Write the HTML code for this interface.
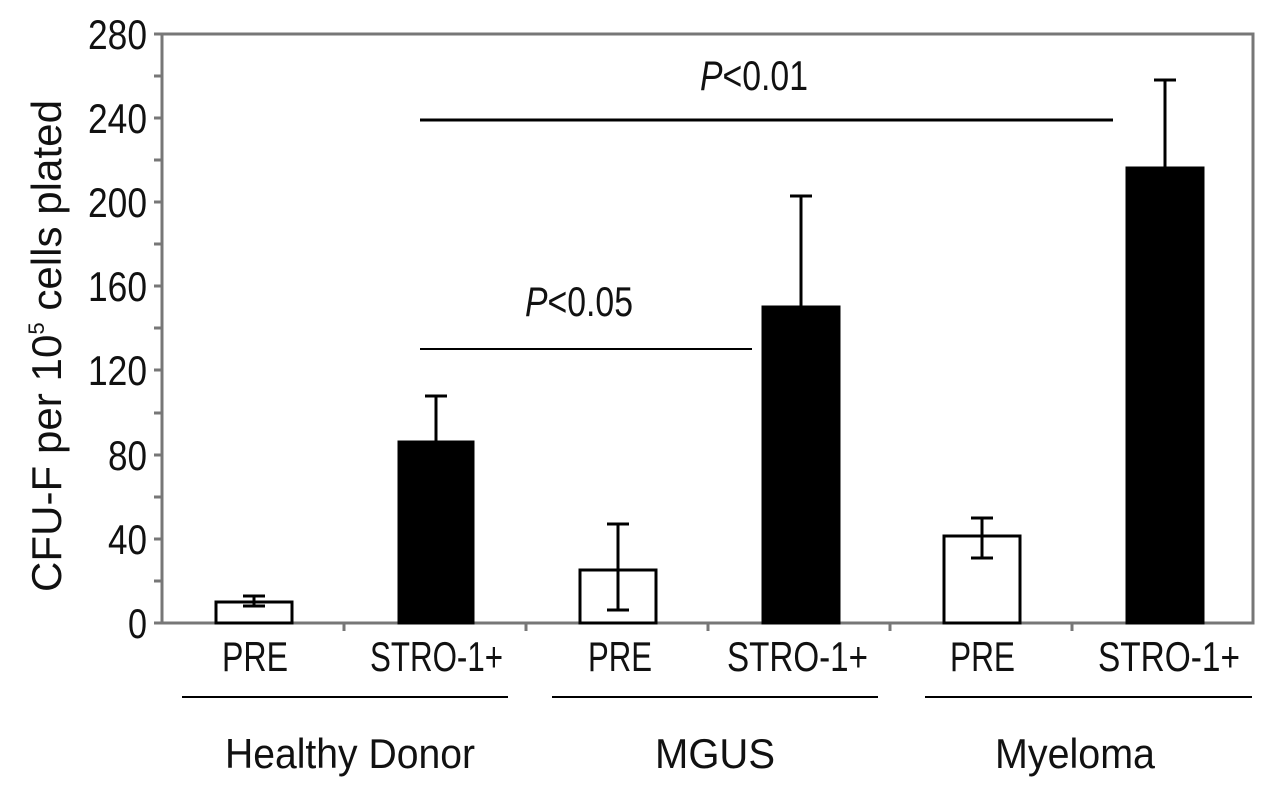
<!DOCTYPE html>
<html><head><style>
html,body{margin:0;padding:0;background:#fff;}
svg text{font-family:"Liberation Sans",sans-serif;fill:#111;}
</style></head><body>
<svg width="1280" height="788" viewBox="0 0 1280 788" xmlns="http://www.w3.org/2000/svg">
<rect x="0" y="0" width="1280" height="788" fill="#fff"/>
<rect x="162" y="34" width="1091" height="589" fill="none" stroke="#777" stroke-width="3"/>
<g stroke="#777" stroke-width="3">
<line x1="154" y1="623" x2="162" y2="623"/><line x1="154" y1="581" x2="162" y2="581"/>
<line x1="154" y1="539" x2="162" y2="539"/><line x1="154" y1="497" x2="162" y2="497"/>
<line x1="154" y1="455" x2="162" y2="455"/><line x1="154" y1="413" x2="162" y2="413"/>
<line x1="154" y1="370" x2="162" y2="370"/><line x1="154" y1="328" x2="162" y2="328"/>
<line x1="154" y1="286" x2="162" y2="286"/><line x1="154" y1="244" x2="162" y2="244"/>
<line x1="154" y1="202" x2="162" y2="202"/><line x1="154" y1="160" x2="162" y2="160"/>
<line x1="154" y1="118" x2="162" y2="118"/><line x1="154" y1="76" x2="162" y2="76"/>
<line x1="154" y1="34" x2="162" y2="34"/>
<line x1="344" y1="623" x2="344" y2="631"/><line x1="526" y1="623" x2="526" y2="631"/>
<line x1="708" y1="623" x2="708" y2="631"/><line x1="890" y1="623" x2="890" y2="631"/>
<line x1="1072" y1="623" x2="1072" y2="631"/>
</g>
<g font-size="42" lengthAdjust="spacingAndGlyphs">
<text x="128" y="638" textLength="19" lengthAdjust="spacingAndGlyphs">0</text>
<text x="108" y="554" textLength="39" lengthAdjust="spacingAndGlyphs">40</text>
<text x="108" y="470" textLength="39" lengthAdjust="spacingAndGlyphs">80</text>
<text x="88" y="385" textLength="59" lengthAdjust="spacingAndGlyphs">120</text>
<text x="88" y="301" textLength="59" lengthAdjust="spacingAndGlyphs">160</text>
<text x="88" y="217" textLength="59" lengthAdjust="spacingAndGlyphs">200</text>
<text x="88" y="133" textLength="59" lengthAdjust="spacingAndGlyphs">240</text>
<text x="88" y="49" textLength="59" lengthAdjust="spacingAndGlyphs">280</text>
</g>
<text font-size="42" transform="translate(61,592) rotate(-90)" textLength="492" lengthAdjust="spacingAndGlyphs">CFU-F per 10<tspan font-size="22" dy="-17">5</tspan><tspan dy="17"> cells plated</tspan></text>
<g stroke="#000" stroke-width="3">
<rect x="216" y="602" width="76" height="21" fill="#fff"/>
<rect x="399" y="442" width="74" height="181" fill="#000"/>
<rect x="580" y="570" width="76" height="53" fill="#fff"/>
<rect x="763" y="307" width="76" height="316" fill="#000"/>
<rect x="944" y="536" width="76" height="87" fill="#fff"/>
<rect x="1127" y="168" width="76" height="455" fill="#000"/>
</g>
<g stroke="#000" stroke-width="3">
<line x1="254" y1="596" x2="254" y2="606"/><line x1="243" y1="596" x2="265" y2="596"/><line x1="243" y1="606" x2="265" y2="606"/>
<line x1="436" y1="396" x2="436" y2="442"/><line x1="425" y1="396" x2="447" y2="396"/>
<line x1="618" y1="524" x2="618" y2="610"/><line x1="607" y1="524" x2="629" y2="524"/><line x1="607" y1="610" x2="629" y2="610"/>
<line x1="801" y1="196" x2="801" y2="307"/><line x1="790" y1="196" x2="812" y2="196"/>
<line x1="982" y1="518" x2="982" y2="558"/><line x1="971" y1="518" x2="993" y2="518"/><line x1="971" y1="558" x2="993" y2="558"/>
<line x1="1165" y1="80" x2="1165" y2="168"/><line x1="1154" y1="80" x2="1176" y2="80"/>
</g>
<line x1="420" y1="120" x2="1113" y2="120" stroke="#000" stroke-width="3"/>
<line x1="420" y1="349" x2="752" y2="349" stroke="#000" stroke-width="2"/>
<text x="700" y="90" font-size="42" textLength="108" lengthAdjust="spacingAndGlyphs"><tspan font-style="italic">P</tspan>&lt;0.01</text>
<text x="525" y="316" font-size="42" textLength="108" lengthAdjust="spacingAndGlyphs"><tspan font-style="italic">P</tspan>&lt;0.05</text>
<g font-size="42">
<text x="222" y="671" textLength="66" lengthAdjust="spacingAndGlyphs">PRE</text>
<text x="370" y="671" textLength="133" lengthAdjust="spacingAndGlyphs">STRO-1+</text>
<text x="588" y="671" textLength="64" lengthAdjust="spacingAndGlyphs">PRE</text>
<text x="727" y="671" textLength="141" lengthAdjust="spacingAndGlyphs">STRO-1+</text>
<text x="950" y="671" textLength="65" lengthAdjust="spacingAndGlyphs">PRE</text>
<text x="1098" y="671" textLength="142" lengthAdjust="spacingAndGlyphs">STRO-1+</text>
<text x="225" y="768" textLength="250" lengthAdjust="spacingAndGlyphs">Healthy Donor</text>
<text x="655" y="768" textLength="120" lengthAdjust="spacingAndGlyphs">MGUS</text>
<text x="995" y="768" textLength="160" lengthAdjust="spacingAndGlyphs">Myeloma</text>
</g>
<g stroke="#000" stroke-width="2">
<line x1="182" y1="697" x2="508" y2="697"/><line x1="552" y1="697" x2="878" y2="697"/><line x1="925" y1="697" x2="1252" y2="697"/>
</g>
</svg>
</body></html>
